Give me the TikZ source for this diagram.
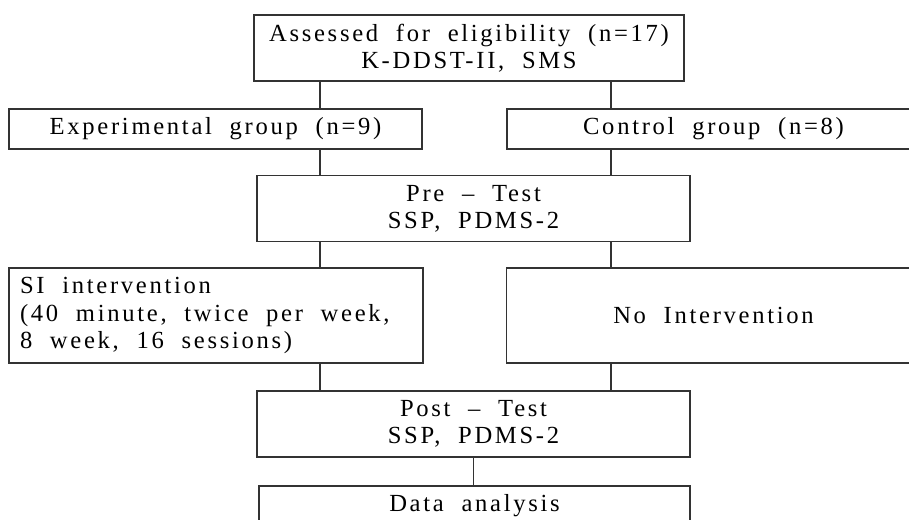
\documentclass[tikz,border=0pt]{standalone}
\usepackage{fontspec}
\newfontfamily\flowfam[LetterSpace=11,WordSpace=2]{Liberation Serif}
\newcommand{\flowfont}{\flowfam\fontsize{14}{15.5}\selectfont}
\tikzset{
  box/.style={draw=black!80, line width=0.7pt, align=center, inner sep=0pt, font=\flowfont},
  kassess/.style={box, minimum width=8.60cm, minimum height=1.32cm},
  kgroup/.style={box, minimum width=8.26cm, minimum height=0.80cm},
  ktest/.style={box, minimum width=8.66cm, minimum height=1.32cm},
  ktreat/.style={box, minimum width=8.28cm, minimum height=1.90cm},
  kdata/.style={box, minimum width=8.62cm, minimum height=0.80cm},
  link/.style={draw=black!80, line width=0.7pt},
}

\begin{document}
\begin{tikzpicture}
    \useasboundingbox (0,0) rectangle (18.18,10.40);
    \clip (0,0) rectangle (18.18,10.40);
    \node[kassess] (assess) at (9.38,9.44) {Assessed for eligibility (n=17)\\K-DDST-II, SMS};
    \node[kgroup] (exper) at (4.31,7.82) {Experimental group (n=9)};
    \node[kgroup] (control) at (14.27,7.82) {Control group (n=8)};
    \node[ktest] (pre) at (9.47,6.23) {Pre – Test\\SSP, PDMS-2};
    \node[ktreat, align=left] (si) at (4.32,4.09) {\makebox[7.84cm][l]{SI intervention}\\(40 minute, twice per week,\\8 week, 16 sessions)};
    \node[ktreat] (noint) at (14.27,4.09) {No Intervention};
    \node[ktest] (post) at (9.47,1.92) {Post – Test\\SSP, PDMS-2};
    \node[kdata] (data) at (9.49,0.28) {Data analysis};
    % trunk lines
    \coordinate (lx) at (6.40,0);
    \coordinate (rx) at (12.22,0);
    \draw[link] (assess.south -| lx) -- (exper.north -| lx);
    \draw[link] (assess.south -| rx) -- (control.north -| rx);
    \draw[link] (exper.south -| lx) -- (pre.north -| lx);
    \draw[link] (control.south -| rx) -- (pre.north -| rx);
    \draw[link] (pre.south -| lx) -- (si.north -| lx);
    \draw[link] (pre.south -| rx) -- (noint.north -| rx);
    \draw[link] (si.south -| lx) -- (post.north -| lx);
    \draw[link] (noint.south -| rx) -- (post.north -| rx);
    \draw[link] (post.south) -- (post.south |- data.north);
  \end{tikzpicture}
\end{document}
